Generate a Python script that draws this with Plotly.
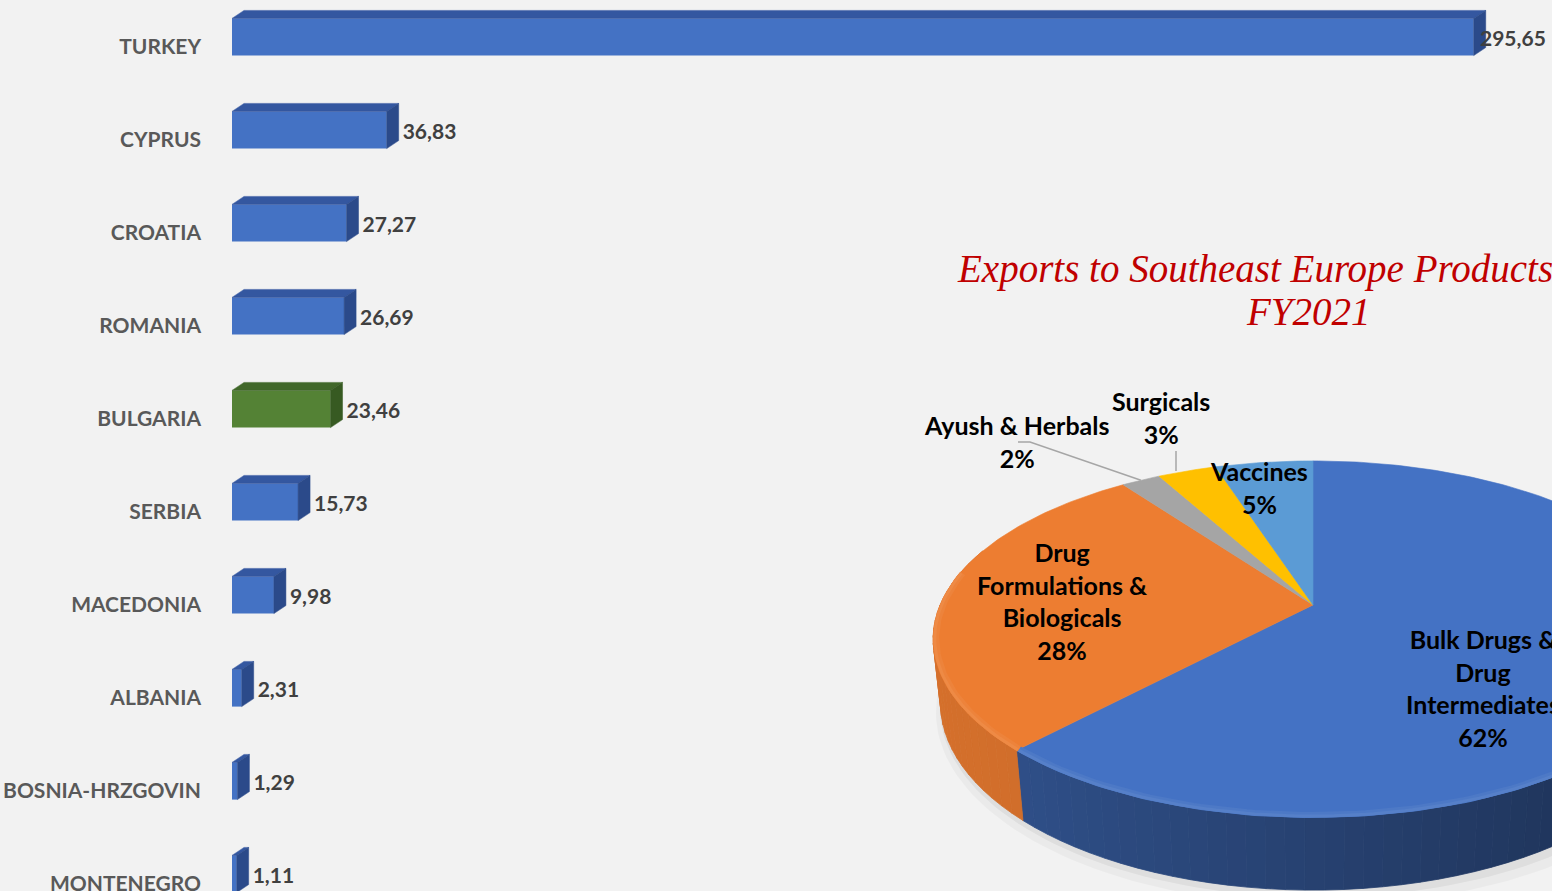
import numpy as np
import plotly.graph_objects as go

# ---------------- data ----------------
countries = ["TURKEY", "CYPRUS", "CROATIA", "ROMANIA", "BULGARIA", "SERBIA",
             "MACEDONIA", "ALBANIA", "BOSNIA-HRZGOVIN", "MONTENEGRO"]
export_values = [295.65, 36.83, 27.27, 26.69, 23.46, 15.73, 9.98, 2.31, 1.29, 1.11]
highlight_country = "BULGARIA"

pie_categories = ["Bulk Drugs & Drug Intermediates", "Drug Formulations & Biologicals",
                  "Ayush & Herbals", "Surgicals", "Vaccines"]
pie_shares = [62, 28, 2, 3, 5]

title_line1 = "Exports to Southeast Europe Products"
title_line2 = "FY2021"

# ---------------- style ----------------
W, H = 1552, 891
BG = "#F2F2F2"
BAR_BLUE = ("#4472C4", "#3457A0", "#2B4A8A")    # front, top, side
BAR_GREEN = ("#548235", "#41682A", "#375A22")
PX_PER_UNIT = 4.2
BAR_LEFT_PX = 232
BAR_WIDTH = 0.4
DEPTH_DX_PX, DEPTH_DY_PX = 12, 8
CAT_PITCH_PX = 93.0
FIRST_CENTER_PX = 37.0

pie_colors = ["#4472C4", "#ED7D31", "#A5A5A5", "#FFC000", "#5B9BD5"]
side_lo = [0.40, 0.80, 0.70, 0.70, 0.70]   # wall shade on the right
side_hi = [0.75, 0.90, 0.80, 0.80, 0.80]   # wall shade on the left
pie_label_text = ["Bulk Drugs &<br>Drug<br>Intermediates<br>62%",
                  "Drug<br>Formulations &<br>Biologicals<br>28%",
                  "Ayush & Herbals<br>2%", "Surgicals<br>3%", "Vaccines<br>5%"]
pie_label_pos = [(1483, 688), (1062, 601), (1016, 441), (1161, 417), (1259, 487)]
pie_leader_from = [None, None, (1018, 442), (1176, 451), None]

# 3D pie projection parameters (pixels)
CX, CY = 1313, 605
T = np.radians(27.4)
S, C = np.sin(T), np.cos(T)
DCAM = 4.65
FOC = 1734
THICK = 0.195


def proj(x, z, yh=0.0):
    yup = z * S + yh * C
    depth = DCAM + z * C - yh * S
    return CX + FOC * x / depth, CY - FOC * yup / depth


def hex2rgb(h):
    h = h.lstrip("#")
    return np.array([int(h[i:i + 2], 16) for i in (0, 2, 4)], dtype=float)


def shade(h, f):
    r, g, b = np.clip(hex2rgb(h) * f, 0, 255).astype(int)
    return f"rgb({r},{g},{b})"


def lighten(h, f):
    c = hex2rgb(h)
    r, g, b = np.clip(c + (255 - c) * f, 0, 255).astype(int)
    return f"rgb({r},{g},{b})"


fig = go.Figure()

# ---------------- bar chart ----------------
n = len(countries)
pos = np.arange(n, dtype=float)
vals = np.array(export_values)
xmax = (W - BAR_LEFT_PX) / PX_PER_UNIT
ytop = -FIRST_CENTER_PX / CAT_PITCH_PX
ybot = ytop + H / CAT_PITCH_PX
dxu = DEPTH_DX_PX / PX_PER_UNIT
dyu = DEPTH_DY_PX / CAT_PITCH_PX

pal = [BAR_GREEN if c == highlight_country else BAR_BLUE for c in countries]

fig.add_trace(go.Bar(x=vals, y=pos, orientation="h", width=BAR_WIDTH,
                     marker=dict(color=[p[0] for p in pal], line=dict(width=0)),
                     hoverinfo="skip", showlegend=False))

for v, y, p in zip(vals, pos, pal):
    y0 = y - BAR_WIDTH / 2
    y1 = y + BAR_WIDTH / 2
    fig.add_trace(go.Scatter(x=[0, v, v + dxu, dxu, 0], y=[y0, y0, y0 - dyu, y0 - dyu, y0],
                             fill="toself", fillcolor=p[1], mode="lines",
                             line=dict(width=0.5, color=p[1]),
                             hoverinfo="skip", showlegend=False))
    fig.add_trace(go.Scatter(x=[v, v + dxu, v + dxu, v, v], y=[y0, y0 - dyu, y1 - dyu, y1, y0],
                             fill="toself", fillcolor=p[2], mode="lines",
                             line=dict(width=0.5, color=p[2]),
                             hoverinfo="skip", showlegend=False))

lab_x = np.minimum(vals + (DEPTH_DX_PX + 4) / PX_PER_UNIT, xmax - 72 / PX_PER_UNIT)
fig.add_trace(go.Scatter(x=lab_x, y=pos + 0.045, mode="text",
                         text=[f"{v:.2f}".replace(".", ",") for v in vals],
                         textposition="middle right",
                         textfont=dict(family="Lato", size=21, color="#404040", weight="bold"),
                         cliponaxis=False, hoverinfo="skip", showlegend=False))

# ---------------- 3D pie ----------------
shares = np.array(pie_shares, dtype=float)
cum = np.concatenate([[0], np.cumsum(shares)]) / shares.sum() * 2 * np.pi

# soft shadow
for k, a, off in [(1.03, 0.03, 7), (1.012, 0.05, 4)]:
    th = np.linspace(0, 2 * np.pi, 200)
    sx, sy = proj(k * np.sin(th), k * np.cos(th), -THICK)
    fig.add_trace(go.Scatter(x=sx + off, y=sy + off, fill="toself", fillcolor=f"rgba(0,0,0,{a})",
                             mode="lines", line=dict(width=0), xaxis="x2", yaxis="y2",
                             hoverinfo="skip", showlegend=False))

# outer walls
for i in range(len(shares)):
    a0, a1 = cum[i], cum[i + 1]
    nseg = max(1, int(np.ceil((a1 - a0) / np.radians(2.5))))
    edges = np.linspace(a0, a1, nseg + 1)
    for s0, s1 in zip(edges[:-1], edges[1:]):
        mid = 0.5 * (s0 + s1)
        if np.cos(mid) > 0.35:
            continue
        th = np.linspace(s0, s1, 4)
        tx, ty = proj(np.sin(th), np.cos(th), 0.0)
        bx, by = proj(np.sin(th), np.cos(th), -THICK)
        t = (1 - np.sin(mid)) / 2
        f = side_lo[i] + (side_hi[i] - side_lo[i]) * t
        col = shade(pie_colors[i], f)
        fig.add_trace(go.Scatter(x=np.concatenate([tx, bx[::-1], tx[:1]]),
                                 y=np.concatenate([ty, by[::-1], ty[:1]]),
                                 fill="toself", fillcolor=col, mode="lines",
                                 line=dict(width=0.8, color=col), xaxis="x2", yaxis="y2",
                                 hoverinfo="skip", showlegend=False))

# top faces
for i in range(len(shares)):
    a0, a1 = cum[i], cum[i + 1]
    th = np.linspace(a0, a1, max(8, int((a1 - a0) / np.radians(1)) + 2))
    px, py = proj(np.sin(th), np.cos(th), 0.0)
    fig.add_trace(go.Scatter(x=np.concatenate([[CX], px, [CX]]),
                             y=np.concatenate([[CY], py, [CY]]),
                             fill="toself", fillcolor=pie_colors[i], mode="lines",
                             line=dict(width=0.6, color=pie_colors[i]), xaxis="x2", yaxis="y2",
                             hoverinfo="skip", showlegend=False))

# soft bevel highlight along the front rim
for i in range(len(shares)):
    a0, a1 = cum[i], cum[i + 1]
    th = np.linspace(a0, a1, max(8, int((a1 - a0) / np.radians(1)) + 2))
    th = th[np.cos(th) < 0.2]
    if th.size < 2:
        continue
    for r, w, f in [(0.992, 6, 0.05), (0.996, 3, 0.10)]:
        px, py = proj(r * np.sin(th), r * np.cos(th), 0.0)
        fig.add_trace(go.Scatter(x=px, y=py, mode="lines",
                                 line=dict(width=w, color=lighten(pie_colors[i], f)),
                                 xaxis="x2", yaxis="y2", hoverinfo="skip", showlegend=False))

# leader lines
for i in range(len(shares)):
    if pie_leader_from[i] is None:
        continue
    mid = 0.5 * (cum[i] + cum[i + 1])
    ex, ey = proj(np.sin(mid), np.cos(mid), 0.0)
    lx, ly = pie_leader_from[i]
    if abs(lx - ex) > 40:
        xs, ys = [lx, lx + 12, ex], [ly, ly, ey]
    else:
        xs, ys = [lx, lx], [ly, ey]
    fig.add_trace(go.Scatter(x=xs, y=ys, mode="lines", line=dict(color="#A6A6A6", width=1.5),
                             xaxis="x2", yaxis="y2", hoverinfo="skip", showlegend=False))

annotations = []
for txt, (lx, ly) in zip(pie_label_text, pie_label_pos):
    annotations.append(dict(x=lx, y=ly, xref="x2", yref="y2", text=txt, showarrow=False,
                            xanchor="center", yanchor="middle", align="center",
                            font=dict(family="Lato", size=25, color="#000000", weight="bold")))

annotations.append(dict(x=955 / W, y=1 - 269 / H, xref="paper", yref="paper",
                        text=f"<i>{title_line1}</i>", showarrow=False, xanchor="left",
                        yanchor="middle",
                        font=dict(family="Liberation Serif", size=39, color="#C00000")))
annotations.append(dict(x=1308 / W, y=1 - 312 / H, xref="paper", yref="paper",
                        text=f"<i>{title_line2}</i>", showarrow=False, xanchor="center",
                        yanchor="middle",
                        font=dict(family="Liberation Serif", size=39, color="#C00000")))

fig.update_layout(
    width=W, height=H,
    margin=dict(l=0, r=0, t=0, b=0),
    paper_bgcolor=BG, plot_bgcolor="rgba(0,0,0,0)",
    showlegend=False,
    xaxis=dict(domain=[BAR_LEFT_PX / W, 1], range=[0, xmax], visible=False, fixedrange=True),
    yaxis=dict(domain=[0, 1], range=[ybot, ytop], tickvals=pos + 0.1, ticktext=countries,
               showgrid=False, zeroline=False, showline=False, ticks="",
               ticklabelstandoff=30, ticklabeloverflow="allow", automargin=False,
               fixedrange=True,
               tickfont=dict(family="Lato", size=21, color="#595959", weight="bold")),
    xaxis2=dict(domain=[0, 1], range=[0, W], anchor="y2", visible=False, fixedrange=True),
    yaxis2=dict(domain=[0, 1], range=[H, 0], anchor="x2", visible=False, fixedrange=True),
    annotations=annotations,
)

fig.write_html("out.html", config={"displayModeBar": False},
               post_script="document.body.style.margin='0';"
                           "document.body.style.background='#F2F2F2';")
